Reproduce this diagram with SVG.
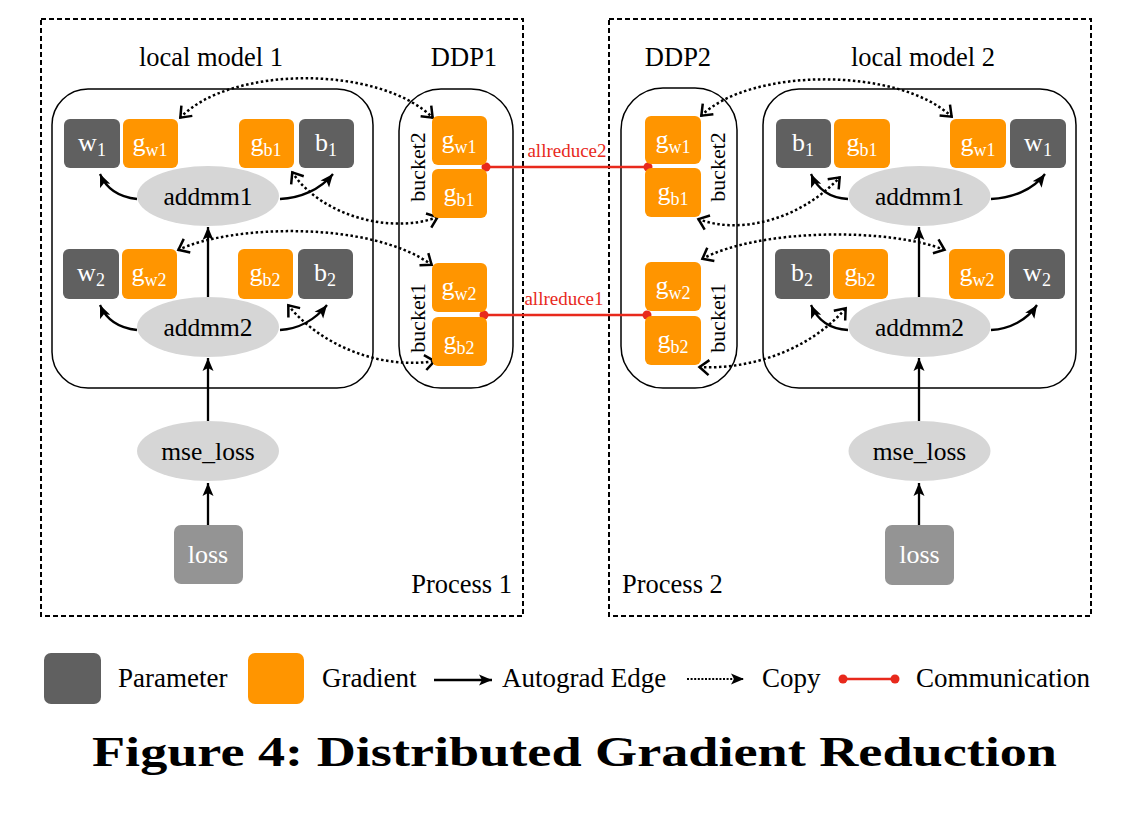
<svg xmlns="http://www.w3.org/2000/svg" width="1141" height="816" viewBox="0 0 1141 816">
<style>
text{font-family:"Liberation Serif","Times New Roman",serif;}
.lbl{font-size:26.5px;fill:#000;}
.el{font-size:25.5px;fill:#000;text-anchor:middle;}
.bx{font-size:26px;fill:#fff;text-anchor:middle;}
.sub{font-size:18px;}
.par{fill:#606060;}
.grad{fill:#ff9500;}
.ell{fill:#d6d6d6;}
.proc{fill:none;stroke:#000;stroke-width:2;stroke-dasharray:5 3;}
.grp{fill:none;stroke:#000;stroke-width:1.5;}
.auto{fill:none;stroke:#000;stroke-width:2.3;marker-end:url(#ah);}
.copy{fill:none;stroke:#000;stroke-width:2.5;stroke-dasharray:2.5 2.5;marker-start:url(#oa);marker-end:url(#oa);}
.comm{stroke:#e8291c;stroke-width:2.6;}
.dot{fill:#e8291c;}
.red{font-size:19px;fill:#e8291c;text-anchor:middle;}
.bk{font-size:22px;fill:#000;text-anchor:middle;}
.leg{font-size:27px;fill:#000;}
</style>
<defs>
<marker id="ah" markerUnits="userSpaceOnUse" markerWidth="14" markerHeight="12" refX="13" refY="6" orient="auto">
<path d="M0,0.5 L13,6 L0,11.5 L3,6 Z" fill="#000"/>
</marker>
<marker id="oa" markerUnits="userSpaceOnUse" markerWidth="16" markerHeight="20" refX="12" refY="10" orient="auto-start-reverse">
<path d="M2,2.5 L11.5,10 L2,17.5" fill="none" stroke="#000" stroke-width="2.5" stroke-dasharray="none"/>
</marker>
</defs>
<rect width="1141" height="816" fill="#fff"/>

<!-- process frames -->
<g id="process1">
<rect class="proc" x="41" y="19" width="482" height="597"/>
<text class="lbl" x="512" y="593" text-anchor="end">Process 1</text>
</g>
<g id="process2">
<rect class="proc" x="609" y="19" width="482" height="597"/>
<text class="lbl" x="622" y="593">Process 2</text>
</g>

<!-- group containers -->
<g id="localmodel1">
<rect class="grp" x="52" y="89" width="321" height="299" rx="36"/>
<text class="lbl" x="211" y="66" text-anchor="middle">local model 1</text>
</g>
<g id="ddp1">
<rect class="grp" x="399" y="89" width="114" height="299" rx="42"/>
<text class="lbl" x="464" y="66" text-anchor="middle">DDP1</text>
<text class="bk" transform="translate(425,167) rotate(-90)">bucket2</text>
<text class="bk" transform="translate(425,318) rotate(-90)">bucket1</text>
</g>
<g id="ddp2">
<rect class="grp" x="621" y="88" width="116" height="300" rx="42"/>
<text class="lbl" x="678" y="66" text-anchor="middle">DDP2</text>
<text class="bk" transform="translate(725,167) rotate(-90)">bucket2</text>
<text class="bk" transform="translate(725,318) rotate(-90)">bucket1</text>
</g>
<g id="localmodel2">
<rect class="grp" x="763" y="89" width="313" height="299" rx="36"/>
<text class="lbl" x="923" y="66" text-anchor="middle">local model 2</text>
</g>

<!-- connectors -->
<g id="connectors">
<!-- autograd edges, process 1 -->
<line class="auto" x1="208" y1="525" x2="208" y2="483"/>
<line class="auto" x1="208" y1="421" x2="208" y2="358"/>
<line class="auto" x1="208" y1="297" x2="208" y2="227"/>
<path class="auto" d="M137,199 C118,197 106,188 100,174"/>
<path class="auto" d="M280,199 C300,198 320,190 333,174"/>
<path class="auto" d="M137,330 C118,328 106,319 100,305"/>
<path class="auto" d="M280,330 C298,329 315,320 327,305"/>
<!-- autograd edges, process 2 -->
<line class="auto" x1="919" y1="525" x2="919" y2="483"/>
<line class="auto" x1="919" y1="421" x2="919" y2="358"/>
<line class="auto" x1="919" y1="297" x2="919" y2="227"/>
<path class="auto" d="M848,199 C829,198 817,188 811,174"/>
<path class="auto" d="M991,199 C1012,198 1033,190 1045,174"/>
<path class="auto" d="M848,330 C829,329 817,319 811,305"/>
<path class="auto" d="M991,330 C1010,329 1027,320 1037,305"/>
<!-- copy edges, process 1 -->
<path class="copy" d="M180,118 C230,65 380,65 433,118"/>
<path class="copy" d="M292,172 C320,215 390,235 438,217"/>
<path class="copy" d="M178,250 C230,225 370,220 432,265"/>
<path class="copy" d="M288,305 C320,345 380,370 435,361"/>
<!-- copy edges, process 2 -->
<path class="copy" d="M701,116 C750,67 900,67 952,117"/>
<path class="copy" d="M698,219 C740,235 800,220 840,177"/>
<path class="copy" d="M702,259 C760,228 890,228 945,250"/>
<path class="copy" d="M699,367 C750,370 810,350 846,308"/>
<!-- communication -->
<line class="comm" x1="486" y1="167" x2="648" y2="167"/>
<circle class="dot" cx="486" cy="167" r="4.5"/>
<circle class="dot" cx="648" cy="167" r="4.5"/>
<text class="red" x="567" y="157">allreduce2</text>
<line class="comm" x1="484" y1="315" x2="647" y2="315"/>
<circle class="dot" cx="484" cy="315" r="4.5"/>
<circle class="dot" cx="647" cy="315" r="4.5"/>
<text class="red" x="564" y="305">allreduce1</text>
</g>

<!-- process 1 nodes -->
<g id="p1-w1"><rect class="par" x="64" y="119" width="56" height="49" rx="6"/><text class="bx" x="92" y="151">w<tspan class="sub" dy="5">1</tspan></text></g>
<g id="p1-gw1"><rect class="grad" x="123" y="119" width="55" height="49" rx="6"/><text class="bx" x="150" y="151">g<tspan class="sub" dy="5">w1</tspan></text></g>
<g id="p1-gb1"><rect class="grad" x="239" y="119" width="55" height="49" rx="6"/><text class="bx" x="266" y="151">g<tspan class="sub" dy="5">b1</tspan></text></g>
<g id="p1-b1"><rect class="par" x="299" y="119" width="55" height="49" rx="6"/><text class="bx" x="326" y="151">b<tspan class="sub" dy="5">1</tspan></text></g>
<g id="p1-w2"><rect class="par" x="63" y="249" width="56" height="50" rx="6"/><text class="bx" x="91" y="281">w<tspan class="sub" dy="5">2</tspan></text></g>
<g id="p1-gw2"><rect class="grad" x="122" y="249" width="55" height="50" rx="6"/><text class="bx" x="149" y="281">g<tspan class="sub" dy="5">w2</tspan></text></g>
<g id="p1-gb2"><rect class="grad" x="238" y="249" width="55" height="50" rx="6"/><text class="bx" x="265" y="281">g<tspan class="sub" dy="5">b2</tspan></text></g>
<g id="p1-b2"><rect class="par" x="298" y="249" width="55" height="50" rx="6"/><text class="bx" x="325" y="281">b<tspan class="sub" dy="5">2</tspan></text></g>
<g id="p1-addmm1"><ellipse class="ell" cx="208" cy="196" rx="71" ry="30"/><text class="el" x="208" y="205">addmm1</text></g>
<g id="p1-addmm2"><ellipse class="ell" cx="208" cy="327" rx="71" ry="30"/><text class="el" x="208" y="336">addmm2</text></g>
<g id="p1-mse"><ellipse class="ell" cx="208" cy="451" rx="71" ry="30"/><text class="el" x="208" y="460">mse_loss</text></g>
<g id="p1-loss"><rect x="174" y="525" width="69" height="59" rx="7" fill="#949494"/><text class="bx" x="208" y="563">loss</text></g>
<g id="ddp1-gw1"><rect class="grad" x="432" y="116" width="55" height="49" rx="6"/><text class="bx" x="459" y="148">g<tspan class="sub" dy="5">w1</tspan></text></g>
<g id="ddp1-gb1"><rect class="grad" x="432" y="169" width="55" height="49" rx="6"/><text class="bx" x="459" y="201">g<tspan class="sub" dy="5">b1</tspan></text></g>
<g id="ddp1-gw2"><rect class="grad" x="432" y="263" width="55" height="49" rx="6"/><text class="bx" x="459" y="295">g<tspan class="sub" dy="5">w2</tspan></text></g>
<g id="ddp1-gb2"><rect class="grad" x="432" y="317" width="55" height="49" rx="6"/><text class="bx" x="459" y="349">g<tspan class="sub" dy="5">b2</tspan></text></g>

<!-- process 2 nodes -->
<g id="ddp2-gw1"><rect class="grad" x="645" y="116" width="56" height="48" rx="6"/><text class="bx" x="673" y="148">g<tspan class="sub" dy="5">w1</tspan></text></g>
<g id="ddp2-gb1"><rect class="grad" x="645" y="168" width="56" height="49" rx="6"/><text class="bx" x="673" y="200">g<tspan class="sub" dy="5">b1</tspan></text></g>
<g id="ddp2-gw2"><rect class="grad" x="645" y="262" width="56" height="49" rx="6"/><text class="bx" x="673" y="294">g<tspan class="sub" dy="5">w2</tspan></text></g>
<g id="ddp2-gb2"><rect class="grad" x="645" y="316" width="56" height="49" rx="6"/><text class="bx" x="673" y="348">g<tspan class="sub" dy="5">b2</tspan></text></g>
<g id="p2-b1"><rect class="par" x="776" y="119" width="55" height="49" rx="6"/><text class="bx" x="803" y="151">b<tspan class="sub" dy="5">1</tspan></text></g>
<g id="p2-gb1"><rect class="grad" x="834" y="119" width="56" height="49" rx="6"/><text class="bx" x="862" y="151">g<tspan class="sub" dy="5">b1</tspan></text></g>
<g id="p2-gw1"><rect class="grad" x="950" y="119" width="56" height="49" rx="6"/><text class="bx" x="978" y="151">g<tspan class="sub" dy="5">w1</tspan></text></g>
<g id="p2-w1"><rect class="par" x="1010" y="119" width="56" height="49" rx="6"/><text class="bx" x="1038" y="151">w<tspan class="sub" dy="5">1</tspan></text></g>
<g id="p2-b2"><rect class="par" x="775" y="249" width="55" height="50" rx="6"/><text class="bx" x="802" y="281">b<tspan class="sub" dy="5">2</tspan></text></g>
<g id="p2-gb2"><rect class="grad" x="833" y="249" width="55" height="50" rx="6"/><text class="bx" x="860" y="281">g<tspan class="sub" dy="5">b2</tspan></text></g>
<g id="p2-gw2"><rect class="grad" x="949" y="249" width="56" height="50" rx="6"/><text class="bx" x="977" y="281">g<tspan class="sub" dy="5">w2</tspan></text></g>
<g id="p2-w2"><rect class="par" x="1009" y="249" width="56" height="50" rx="6"/><text class="bx" x="1037" y="281">w<tspan class="sub" dy="5">2</tspan></text></g>
<g id="p2-addmm1"><ellipse class="ell" cx="919.5" cy="196" rx="71" ry="30"/><text class="el" x="919.5" y="205">addmm1</text></g>
<g id="p2-addmm2"><ellipse class="ell" cx="919.5" cy="327" rx="71" ry="30"/><text class="el" x="919.5" y="336">addmm2</text></g>
<g id="p2-mse"><ellipse class="ell" cx="919.5" cy="451" rx="71" ry="30"/><text class="el" x="919.5" y="460">mse_loss</text></g>
<g id="p2-loss"><rect x="885" y="525" width="69" height="60" rx="7" fill="#949494"/><text class="bx" x="919.5" y="563">loss</text></g>

<!-- legend -->
<g id="legend">
<rect class="par" x="44" y="653" width="57" height="51" rx="7"/>
<text class="leg" x="118" y="687">Parameter</text>
<rect class="grad" x="248" y="653" width="56" height="51" rx="7"/>
<text class="leg" x="322" y="687">Gradient</text>
<line x1="434" y1="680" x2="492" y2="680" stroke="#000" stroke-width="2.3" marker-end="url(#ah)"/>
<text class="leg" x="502" y="687">Autograd Edge</text>
<line x1="687" y1="679" x2="744" y2="679" stroke="#000" stroke-width="2.2" stroke-dasharray="2 1.6" marker-end="url(#ah)"/>
<text class="leg" x="762" y="687">Copy</text>
<line class="comm" x1="843" y1="679" x2="895" y2="679"/>
<circle class="dot" cx="843" cy="679" r="4.5"/>
<circle class="dot" cx="895" cy="679" r="4.5"/>
<text class="leg" x="916" y="687">Communication</text>
</g>

<text x="92" y="766" font-size="42" font-weight="bold" textLength="965" lengthAdjust="spacingAndGlyphs" fill="#000">Figure 4: Distributed Gradient Reduction</text>
</svg>
